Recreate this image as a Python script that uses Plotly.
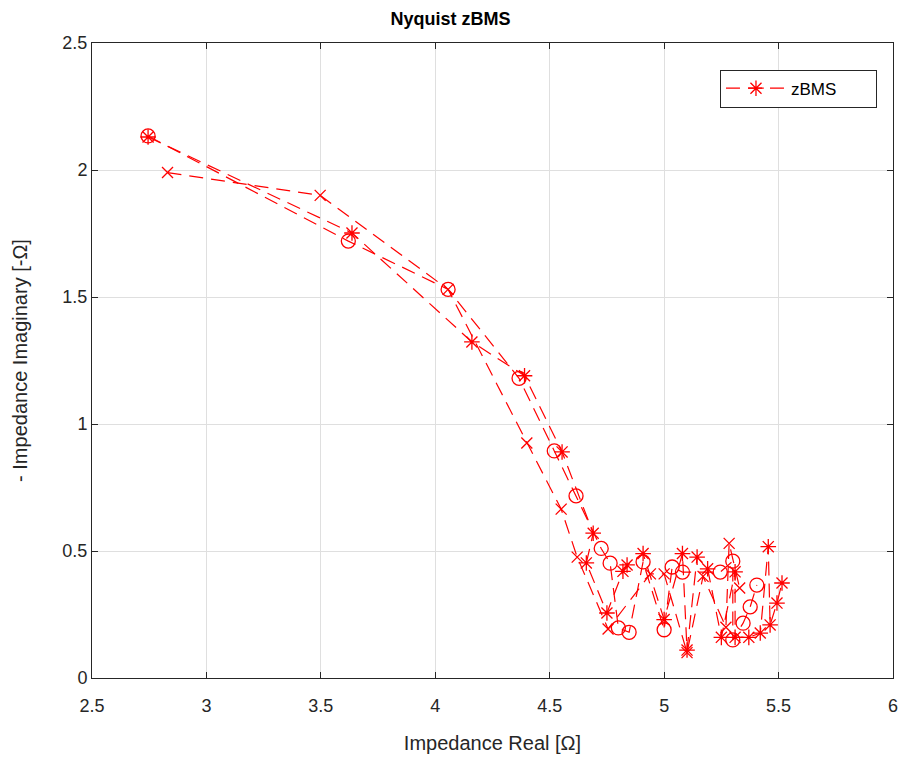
import plotly.graph_objects as go

# Series with '*' markers (legend entry "zBMS")
star_re = [2.745, 3.636, 4.16, 4.39, 4.554, 4.69, 4.66, 4.75, 4.82, 4.838, 4.908, 5.0, 5.08, 5.10,
           5.144, 5.19, 5.25, 5.31, 5.31, 5.37, 5.42, 5.455, 5.463, 5.493, 5.515]
star_im = [2.13, 1.752, 1.323, 1.19, 0.89, 0.57, 0.453, 0.256, 0.42, 0.445, 0.49, 0.23, 0.49, 0.11,
           0.476, 0.43, 0.16, 0.418, 0.16, 0.16, 0.177, 0.517, 0.209, 0.295, 0.374]

# Series with 'o' markers
circ_re = [2.745, 3.62, 4.056, 4.366, 4.52, 4.615, 4.725, 4.764, 4.80, 4.847, 4.908, 5.0, 5.035,
           5.08, 5.245, 5.30, 5.30, 5.345, 5.376, 5.405]
circ_im = [2.134, 1.72, 1.53, 1.18, 0.894, 0.717, 0.51, 0.452, 0.197, 0.18, 0.457, 0.19, 0.437,
           0.417, 0.417, 0.46, 0.15, 0.216, 0.28, 0.366]

# Series with 'x' markers
x_re = [2.83, 3.497, 4.056, 4.40, 4.55, 4.62, 4.755, 4.94, 5.0, 5.10, 5.17, 5.27, 5.284, 5.33]
x_im = [1.99, 1.90, 1.53, 0.925, 0.665, 0.476, 0.193, 0.41, 0.41, 0.10, 0.40, 0.20, 0.53, 0.354]

x_ticks = [2.5, 3, 3.5, 4, 4.5, 5, 5.5, 6]
x_labels = ["2.5", "3", "3.5", "4", "4.5", "5", "5.5", "6"]
y_ticks = [0, 0.5, 1, 1.5, 2, 2.5]
y_labels = ["0", "0.5", "1", "1.5", "2", "2.5"]

RED = "#FF0000"
DASH = "14px,8px"
FONT = "Liberation Sans, Arial, sans-serif"

fig = go.Figure()
fig.add_trace(go.Scatter(x=star_re, y=star_im, mode="lines+markers", name="zBMS",
                         line=dict(color=RED, width=1.2, dash=DASH),
                         marker=dict(symbol="asterisk-open", size=13, color=RED,
                                     line=dict(color=RED, width=1.3))))
fig.add_trace(go.Scatter(x=x_re, y=x_im, mode="lines+markers", name="x", showlegend=False,
                         line=dict(color=RED, width=1.2, dash=DASH),
                         marker=dict(symbol="x-thin-open", size=11, color=RED,
                                     line=dict(color=RED, width=1.3))))
fig.add_trace(go.Scatter(x=circ_re, y=circ_im, mode="lines+markers", name="o", showlegend=False,
                         line=dict(color=RED, width=1.2, dash=DASH),
                         marker=dict(symbol="circle-open", size=14, color=RED,
                                     line=dict(color=RED, width=1.3))))

axis_common = dict(showgrid=True, gridcolor="#DFDFDF", gridwidth=1, zeroline=False,
                   showline=True, linecolor="#262626", linewidth=1, mirror="ticks",
                   ticks="inside", ticklen=6, tickcolor="#262626", automargin=False,
                   tickfont=dict(family=FONT, size=18, color="#262626"))

fig.update_layout(
    width=901, height=758,
    margin=dict(l=92, r=8, t=43, b=80),
    paper_bgcolor="white", plot_bgcolor="white",
    title=dict(text="<b>Nyquist zBMS</b>", x=0.5, xanchor="center", y=0.975, yanchor="middle",
               font=dict(family=FONT, size=18, color="#000000")),
    xaxis=dict(range=[2.5, 6], tickmode="array", tickvals=x_ticks, ticktext=x_labels,
               ticklabelstandoff=11,
               title=dict(text="Impedance Real [Ω]", standoff=21,
                          font=dict(family=FONT, size=20, color="#262626")),
               **axis_common),
    yaxis=dict(range=[0, 2.5], tickmode="array", tickvals=y_ticks, ticktext=y_labels,
               title=dict(text="- Impedance Imaginary [-Ω]", standoff=29,
                          font=dict(family=FONT, size=20, color="#262626")),
               **axis_common),
    legend=dict(x=0.98, y=0.958, xanchor="right", yanchor="top", orientation="h",
                bgcolor="white", bordercolor="#262626", borderwidth=1,
                font=dict(family=FONT, size=17, color="#000000"),
                itemwidth=60, entrywidth=80, entrywidthmode="pixels"),
    showlegend=True,
)

fig.write_html("out.html")
